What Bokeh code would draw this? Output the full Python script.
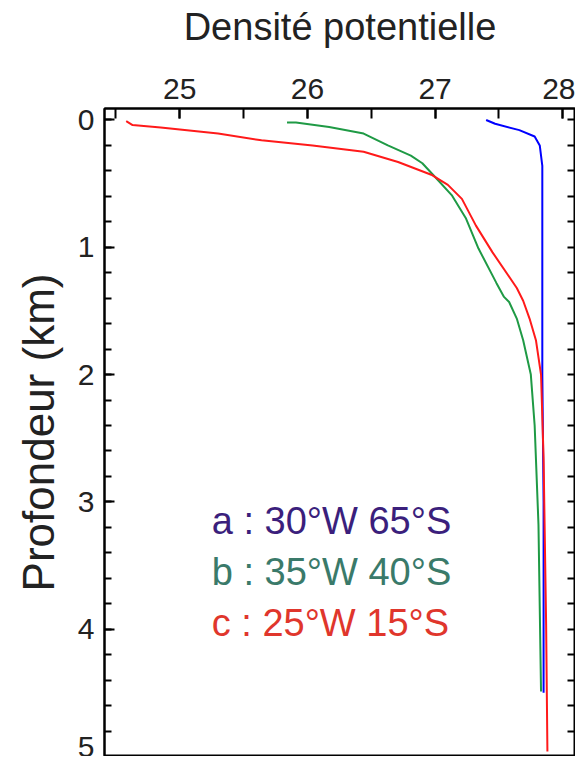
from bokeh.plotting import figure
from bokeh.models import Range1d, LinearAxis, SingleIntervalTicker, FixedTicker, Label
from bokeh.embed import file_html
from bokeh.resources import INLINE

# Profile a : 30°W 65°S
depth_a = [0.0, 0.03, 0.08, 0.13, 0.2, 0.36, 1.0, 2.0, 3.0, 4.5]
dens_a = [27.40, 27.47, 27.66, 27.78, 27.82, 27.84, 27.84, 27.84, 27.85, 27.85]

# Profile b : 35°W 40°S
depth_b = [0.02, 0.02, 0.055, 0.107, 0.2, 0.28, 0.34, 0.47, 0.59, 0.77, 1.01,
           1.28, 1.39, 1.43, 1.56, 1.73, 2.0, 2.4, 3.18, 4.49]
dens_b = [25.84, 25.91, 26.17, 26.44, 26.63, 26.81, 26.90, 27.02, 27.13, 27.24,
          27.34, 27.48, 27.54, 27.58, 27.64, 27.69, 27.75, 27.78, 27.81, 27.83]

# Profile c : 25°W 15°S
depth_c = [0.01, 0.04, 0.06, 0.107, 0.16, 0.2, 0.25, 0.33, 0.43, 0.51, 0.62,
           0.83, 1.04, 1.32, 1.42, 1.56, 1.73, 2.0, 2.66, 3.97, 4.96]
dens_c = [24.58, 24.63, 24.85, 25.30, 25.64, 26.04, 26.44, 26.71, 26.97, 27.10,
          27.21, 27.32, 27.45, 27.64, 27.69, 27.74, 27.79, 27.83, 27.85, 27.87, 27.88]

labels = ["a : 30°W 65°S", "b : 35°W 40°S", "c : 25°W 15°S"]
label_colors = ["#3b1f7c", "#3a7a6a", "#e0362c"]
line_colors = ["#0000ff", "#1f9a45", "#ff1a1a"]

# tick positions for the unlabelled mirror axis
y_mirror_ticks = [0.0, 0.2, 0.4, 0.6, 0.8, 1.0, 1.2, 1.4, 1.6, 1.8, 2.0, 2.2, 2.4,
                  2.6, 2.8, 3.0, 3.2, 3.4, 3.6, 3.8, 4.0, 4.2, 4.4, 4.6, 4.8, 5.0]

FONT = "Liberation Sans"
TXT = "#222222"

p = figure(width=575, height=756, output_backend="svg", toolbar_location=None,
           x_range=Range1d(24.41, 28.10), y_range=Range1d(5.0, -0.09),
           x_axis_location=None, y_axis_location=None,
           min_border_left=104, min_border_top=108, min_border_right=0,
           min_border_bottom=0)
p.outline_line_color = "black"
p.outline_line_width = 2
p.xgrid.grid_line_color = None
p.ygrid.grid_line_color = None

# top axis
top = LinearAxis(ticker=SingleIntervalTicker(interval=1, num_minor_ticks=2))
top.axis_line_width = 2
top.major_tick_line_width = 2
top.minor_tick_line_width = 2
top.major_tick_in = 10; top.major_tick_out = 0
top.minor_tick_in = 10; top.minor_tick_out = 0
top.major_label_text_font = FONT
top.major_label_text_font_size = "30px"
top.major_label_text_color = TXT
top.major_label_standoff = 10
top.axis_label = "Densité potentielle"
top.axis_label_text_font = FONT
top.axis_label_text_font_size = "38px"
top.axis_label_text_font_style = "normal"
top.axis_label_text_color = TXT
top.axis_label_standoff = 28
p.add_layout(top, "above")

# left axis
left = LinearAxis(ticker=SingleIntervalTicker(interval=1, num_minor_ticks=5))
left.axis_line_width = 2
left.major_tick_line_width = 2
left.minor_tick_line_width = 2
left.major_tick_in = 10; left.major_tick_out = 0
left.minor_tick_in = 7; left.minor_tick_out = 0
left.major_label_text_font = FONT
left.major_label_text_font_size = "30px"
left.major_label_text_color = TXT
left.major_label_standoff = 10
left.axis_label = "Profondeur (km)"
left.axis_label_text_font = FONT
left.axis_label_text_font_size = "44px"
left.axis_label_text_font_style = "normal"
left.axis_label_text_color = TXT
left.axis_label_standoff = 12
p.add_layout(left, "left")

# mirrored, unlabelled right axis
right = LinearAxis(ticker=FixedTicker(ticks=[], minor_ticks=y_mirror_ticks))
right.axis_line_width = 2
right.minor_tick_line_width = 2
right.minor_tick_in = 8; right.minor_tick_out = 0
right.major_tick_in = 8; right.major_tick_out = 0
p.add_layout(right, "right")

p.line(dens_a, depth_a, line_color=line_colors[0], line_width=2)
p.line(dens_b, depth_b, line_color=line_colors[1], line_width=2)
p.line(dens_c, depth_c, line_color=line_colors[2], line_width=2)

label_y = [3.15, 3.55, 3.95]
for txt, col, yy in zip(labels, label_colors, label_y):
    p.add_layout(Label(x=25.25, y=yy, text=txt, text_color=col,
                       text_font=FONT, text_font_size="38px",
                       text_baseline="middle", text_align="left"))

open("out.html", "w").write(file_html(p, INLINE))
